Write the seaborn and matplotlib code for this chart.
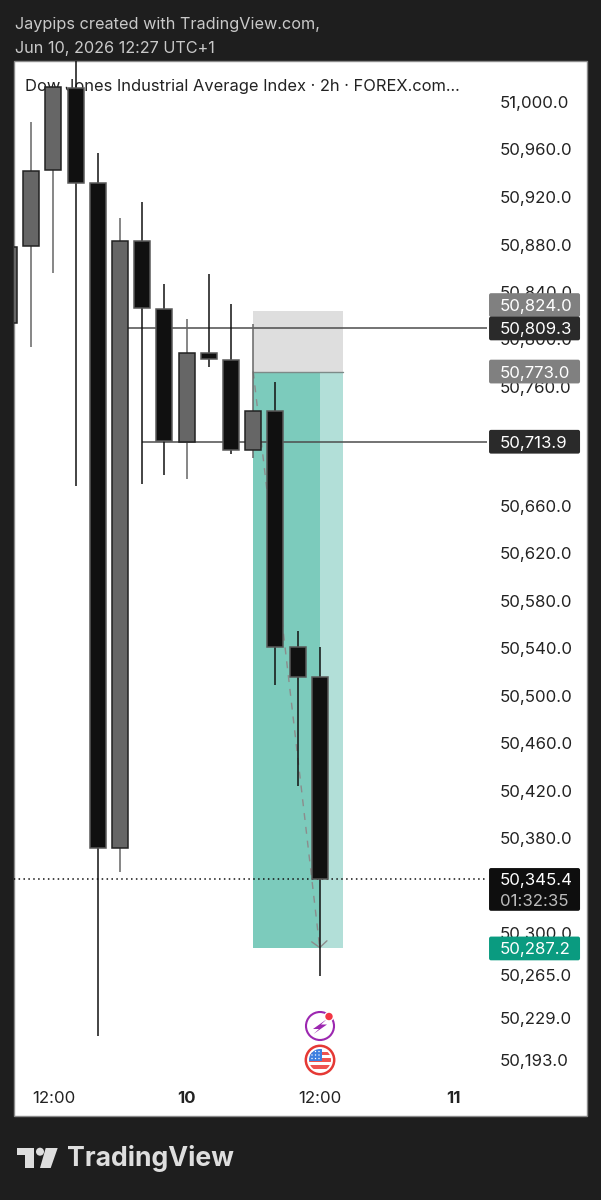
import numpy as np
import pandas as pd
import matplotlib
matplotlib.use("Agg")
import matplotlib.pyplot as plt
from matplotlib.patches import Rectangle, FancyBboxPatch, Circle, Polygon
import seaborn as sns

# ========== Chart values ==========
opens = [50813.9, 50878.7, 50942.7, 51011.8, 50931.8, 50371.8, 50882.9, 50825.7,
         50713.7, 50788.6, 50782.7, 50706.9, 50739.8, 50541.1, 50515.8]
closes = [50877.9, 50941.9, 51012.6, 50931.8, 50371.8, 50882.9, 50826.5, 50714.5,
          50788.6, 50783.6, 50706.9, 50739.8, 50541.1, 50515.8, 50345.4]
highs = [50890.0, 50983.2, 51012.6, 51040.0, 50957.0, 50902.3, 50915.8, 50846.7,
         50817.3, 50855.2, 50829.9, 50813.0, 50764.2, 50554.5, 50541.1]
lows = [50800.0, 50793.7, 50856.0, 50676.6, 50213.5, 50351.6, 50678.3, 50685.9,
        50682.5, 50776.8, 50703.6, 50700.2, 50509.1, 50424.0, 50264.0]

price_ticks = [51000, 50960, 50920, 50880, 50840, 50800, 50760, 50660, 50620, 50580,
               50540, 50500, 50460, 50420, 50380, 50300, 50265, 50229, 50193]
time_ticks = [2, 8, 14, 20]
time_labels = ["12:00", "10", "12:00", "11"]

level_prices = [50809.3, 50713.9]
level_starts = [5, 6]
last_price = 50345.4
countdown = "01:32:35"
stop_price = 50824.0
entry_price = 50773.0
target_price = 50287.2
zone_start = 11
zone_now = 14
zone_end = 15.05

# price tag: shown value, height on the scale (the 50,824.0 tag is pushed up), colour
tag_values = [50824.0, 50809.3, 50773.0, 50713.9, 50287.2]
tag_heights = [50829.0, 50809.3, 50773.0, 50713.9, 50287.2]
tag_colors = ["#808080", "#2a2a2a", "#808080", "#2a2a2a", "#0a9b80"]

# ========== Helpers ==========
W, H = 601, 1200
BG = "#1e1e1e"
INK = "#222222"
LABEL_SIZE = 12.1


def px_rect(left, top, right, bottom):
    return [left / W, 1 - bottom / H, (right - left) / W, (bottom - top) / H]


sns.set_theme(style="white")
plt.rcParams["font.family"] = ["Inter", "DejaVu Sans"]

fig = plt.figure(figsize=(W / 100, H / 100), dpi=100, facecolor=BG)

# page layer in pixel coordinates
page = fig.add_axes([0, 0, 1, 1], zorder=0)
page.set_xlim(0, W)
page.set_ylim(H, 0)
page.axis("off")
page.add_patch(Rectangle((14, 61), 573, 1055, fc="white", ec="#8a8a8a", lw=1))
page.text(15, 25, "Jaypips created with TradingView.com,", color="#c9c9c9", fontsize=11.7, va="center")
page.text(15, 48, "Jun 10, 2026 12:27 UTC+1", color="#c9c9c9", fontsize=11.7, va="center")

# TradingView logo
page.add_patch(Polygon([(17, 1148), (34, 1148), (34, 1168), (25, 1168), (25, 1155), (17, 1155)],
                       fc="#dedede", ec="none"))
page.add_patch(Circle((40, 1151.7), 4, fc="#dedede", ec="none"))
page.add_patch(Polygon([(45.7, 1148), (57.7, 1148), (50.7, 1168), (40, 1168)], fc="#dedede", ec="none"))
page.text(67, 1159, "TradingView", color="#dedede", fontsize=19.2, fontweight="bold", va="center")

# ========== Price chart ==========
ax = fig.add_axes(px_rect(14, 61, 487, 1084), zorder=1)
ax.patch.set_alpha(0)
for side in ax.spines.values():
    side.set_visible(False)

candles = pd.DataFrame({"idx": np.arange(len(opens)), "open": opens, "close": closes,
                        "high": highs, "low": lows})
candles["direction"] = np.where(candles["close"] >= candles["open"], "up", "down")
candles["bottom"] = candles[["open", "close"]].min(axis=1)
candles["body"] = (candles["close"] - candles["open"]).abs()

# trade zone
ax.add_patch(Rectangle((zone_start, entry_price), zone_end - zone_start, stop_price - entry_price,
                       fc="#dedede", ec="none", zorder=1))
ax.add_patch(Rectangle((zone_start, target_price), zone_now - zone_start, entry_price - target_price,
                       fc="#7ccbbc", ec="none", zorder=1))
ax.add_patch(Rectangle((zone_now, target_price), zone_end - zone_now, entry_price - target_price,
                       fc="#b2dfd8", ec="none", zorder=1))
ax.plot([zone_start, zone_end], [entry_price, entry_price], color="#7d8a88", lw=1, zorder=1.5)

# projection path
path = pd.DataFrame({"idx": [zone_start, zone_now], "price": [entry_price, target_price]})
sns.lineplot(data=path, x="idx", y="price", ax=ax, color="#8c8c8c", lw=1.0, linestyle=(0, (5, 5)),
             estimator=None, sort=False, zorder=2)
ax.annotate("", xy=(zone_now, target_price), xytext=(zone_now - 0.03, target_price + 8),
            arrowprops=dict(arrowstyle="->,head_length=0.45,head_width=0.55", mutation_scale=10,
                            color="#8c8c8c", lw=1.0, shrinkA=0, shrinkB=0), zorder=2)

# horizontal levels
for price, start in zip(level_prices, level_starts):
    ax.plot([start, 21.6], [price, price], color="#4d4d4d", lw=1.1, zorder=2.5, solid_capstyle="butt")
ax.plot([-1, 21.6], [last_price, last_price], color="#111111", lw=1.1, linestyle=(0, (1, 2.2)), zorder=2.5)

# wicks
wicks = candles.melt(id_vars=["idx", "direction"], value_vars=["high", "low"], value_name="price")
sns.lineplot(data=wicks, x="idx", y="price", hue="direction", units="idx", estimator=None, ax=ax,
             palette={"up": "#666666", "down": "#111111"}, lw=1.1, legend=False, zorder=3,
             solid_capstyle="butt")

# candle bodies
styles = {"up": ("#666666", "#222222"), "down": ("#101010", "#5a5a5a")}
for name, (fill, edge) in styles.items():
    sub = candles[candles["direction"] == name]
    sns.barplot(data=sub, x="idx", y="body", bottom=sub["bottom"].to_numpy(), native_scale=True,
                width=0.72, color=fill, saturation=1, edgecolor=edge, linewidth=1.1, errorbar=None,
                ax=ax, zorder=4)

ax.set_xlim(0.225, 21.53)
ax.set_ylim(51000 - (1084 - 102) / 1.1875, 51000 + (102 - 61) / 1.1875)

ax.yaxis.tick_right()
ax.set_yticks(price_ticks)
ax.set_yticklabels([f"{p:,.1f}" for p in price_ticks], color=INK, fontsize=LABEL_SIZE, ha="left")
ax.set_xticks(time_ticks)
ax.set_xticklabels(time_labels, color=INK, fontsize=LABEL_SIZE)
ax.get_xticklabels()[1].set_fontweight("bold")
ax.get_xticklabels()[3].set_fontweight("bold")
ax.tick_params(axis="y", length=0, pad=9.2)
ax.tick_params(axis="x", length=0, pad=5)
ax.set_xlabel("")
ax.set_ylabel("")

ax.text(0.023, 1 - 25 / 1023, "Dow Jones Industrial Average Index \u00b7 2h \u00b7 FOREX.com...",
        transform=ax.transAxes, color=INK, fontsize=11.85, va="center", zorder=2)

# price tags on the right scale
tag_left = (489 - 9) / 22.2
tag_width = 91 / 22.2
text_x = (500 - 9) / 22.2
round_args = dict(boxstyle="round,pad=0,rounding_size=0.09", mutation_aspect=18.7, ec="none",
                  clip_on=False, zorder=6)
for value, height, color in zip(tag_values, tag_heights, tag_colors):
    ax.add_patch(FancyBboxPatch((tag_left, height - 10), tag_width, 20, fc=color, **round_args))
    ax.text(text_x, height, f"{value:,.1f}", color="white", fontsize=LABEL_SIZE, va="center_baseline",
            clip_on=False, zorder=7)
ax.add_patch(FancyBboxPatch((tag_left, last_price - 26.5), tag_width, 36, fc="#0e0e0e", **round_args))
ax.text(text_x, last_price, f"{last_price:,.1f}", color="white", fontsize=LABEL_SIZE, va="center_baseline",
        clip_on=False, zorder=7)
ax.text(text_x, last_price - 17, countdown, color="#bcbcbc", fontsize=LABEL_SIZE, va="center_baseline",
        clip_on=False, zorder=7)

# ========== Event icons ==========
over = fig.add_axes([0, 0, 1, 1], zorder=2)
over.set_xlim(0, W)
over.set_ylim(H, 0)
over.axis("off")
over.patch.set_alpha(0)

over.add_patch(Circle((320, 1026), 14, fc="white", ec="#9c27b0", lw=1.5))
over.add_patch(Polygon([(327, 1019), (313, 1029), (319, 1029), (313.5, 1034), (327, 1024.5), (321, 1024.5)],
                       fc="#9c27b0", ec="none"))
over.add_patch(Circle((329, 1016.5), 5, fc="white", ec="none"))
over.add_patch(Circle((329, 1016.5), 3.7, fc="#f23645", ec="none"))

over.add_patch(Circle((320, 1060), 14.2, fc="white", ec="#e53935", lw=1.8))
clip = Circle((320, 1060), 11, transform=over.transData)
for top, height in ((1052, 3), (1058, 3.5), (1065, 3.5)):
    stripe = Rectangle((308, top), 24, height, fc="#ef5350", ec="none")
    over.add_patch(stripe)
    stripe.set_clip_path(clip)
canton = Rectangle((308, 1048), 13.5, 13, fc="#3d7fe0", ec="none")
over.add_patch(canton)
canton.set_clip_path(clip)
for dot_x in (312, 315.5, 319):
    for dot_y in (1051.5, 1055, 1058.5):
        over.add_patch(Circle((dot_x, dot_y), 0.7, fc="white", ec="none"))

fig.savefig("out.png", dpi=100, facecolor=BG)
